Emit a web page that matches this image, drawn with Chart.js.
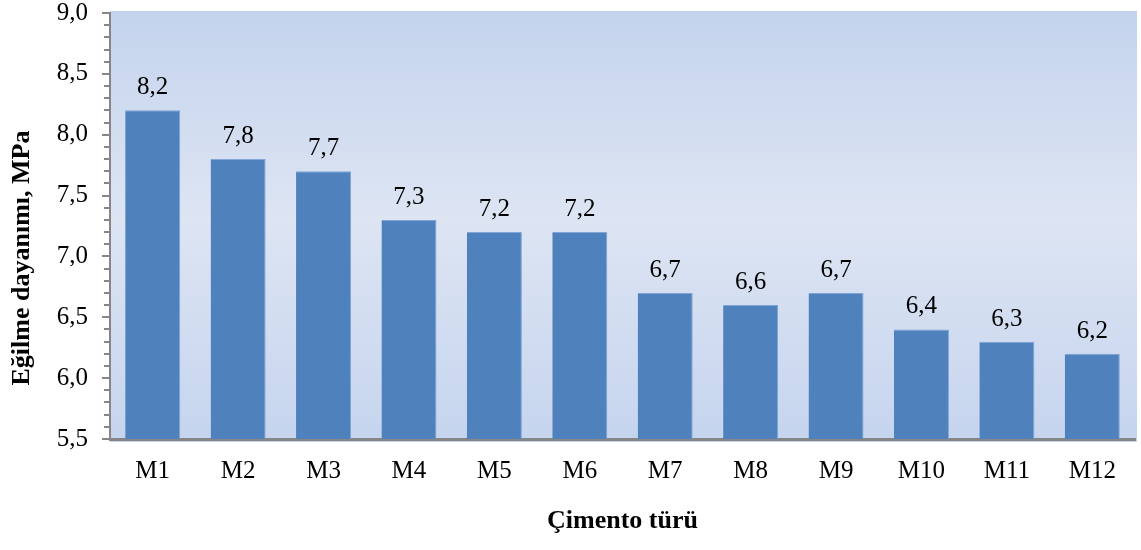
<!DOCTYPE html>
<html>
<head>
<meta charset="utf-8">
<script src="https://cdn.jsdelivr.net/npm/chart.js@4.4.1/dist/chart.umd.min.js"></script>
<style>
  html, body { margin: 0; padding: 0; background: #fff; }
  #wrap { position: relative; width: 1141px; height: 550px; }
</style>
</head>
<body>
<div id="wrap"><canvas id="graph"></canvas></div>
<script>
const categories = ['M1', 'M2', 'M3', 'M4', 'M5', 'M6', 'M7', 'M8', 'M9', 'M10', 'M11', 'M12']
const strength = [8.2, 7.8, 7.7, 7.3, 7.2, 7.2, 6.7, 6.6, 6.7, 6.4, 6.3, 6.2]
const yMin = 5.5
const yMax = 9.0
const yStep = 0.5
const yTitle = 'Eğilme dayanımı, MPa'
const xTitle = 'Çimento türü'

const SERIF = '"Liberation Serif", "Times New Roman", serif'
const AXIS_GREY = '#868686'

const fmt = (v) => v.toFixed(1).replace('.', ',')

// soft blue gradient behind the plot, lightest around the middle
const plotBackground = {
  id: 'plotBackground',
  beforeDraw(chart) {
    const { ctx, chartArea } = chart
    const top = chartArea.top - 2
    const bottom = chartArea.bottom + 3
    const g = ctx.createLinearGradient(0, top, 0, bottom)
    g.addColorStop(0, '#c4d3ed')
    g.addColorStop(0.48, '#dde5f3')
    g.addColorStop(1, '#c5d4ee')
    ctx.save()
    ctx.fillStyle = g
    ctx.fillRect(chartArea.left, top, chartArea.right - chartArea.left + 2, bottom - top)
    ctx.restore()
  }
}

// small ticks every 0.1 between the labelled ones
const minorTicks = {
  id: 'minorTicks',
  afterDraw(chart) {
    const { ctx } = chart
    const y = chart.scales.y
    const x0 = chart.chartArea.left
    ctx.save()
    ctx.strokeStyle = AXIS_GREY
    ctx.lineWidth = 2
    for (let i = Math.round(yMin * 10) + 1; i < Math.round(yMax * 10); i++) {
      if (i % 5 === 0) continue
      const py = Math.round(y.getPixelForValue(i / 10))
      ctx.beginPath()
      ctx.moveTo(x0 - 6, py)
      ctx.lineTo(x0, py)
      ctx.stroke()
    }
    ctx.restore()
  }
}

// value above each bar
const barValues = {
  id: 'barValues',
  afterDatasetsDraw(chart) {
    const { ctx } = chart
    const meta = chart.getDatasetMeta(0)
    ctx.save()
    ctx.fillStyle = '#000'
    ctx.font = '25px ' + SERIF
    ctx.textAlign = 'center'
    ctx.textBaseline = 'alphabetic'
    meta.data.forEach((bar, i) => {
      ctx.fillText(fmt(strength[i]), bar.x, bar.y - 16)
    })
    ctx.restore()
  }
}

// vertical axis title, sits a little below the plot's midline
const yAxisTitle = {
  id: 'yAxisTitle',
  afterDraw(chart) {
    const { ctx } = chart
    ctx.save()
    ctx.translate(29, 258)
    ctx.rotate(-Math.PI / 2)
    ctx.fillStyle = '#000'
    ctx.font = 'bold 26px ' + SERIF
    ctx.textAlign = 'center'
    ctx.textBaseline = 'alphabetic'
    ctx.fillText(yTitle, 0, 0)
    ctx.restore()
  }
}

new Chart(document.getElementById('graph'), {
  type: 'bar',
  data: {
    labels: categories,
    datasets: [{
      data: strength,
      backgroundColor: '#4f81bd',
      borderColor: '#7ea5d6',
      borderWidth: { top: 1, right: 1, left: 0, bottom: 0 },
      borderSkipped: false,
      barPercentage: 0.644,
      categoryPercentage: 1
    }]
  },
  options: {
    responsive: true,
    maintainAspectRatio: false,
    animation: false,
    devicePixelRatio: 1,
    layout: { padding: { top: 13, right: 6, left: 0, bottom: 0 } },
    plugins: {
      legend: { display: false },
      tooltip: { enabled: false }
    },
    scales: {
      y: {
        min: yMin,
        max: yMax,
        afterFit(scale) {
          scale.width = 110
          scale.paddingTop = 0
          scale.paddingBottom = 0
        },
        ticks: {
          stepSize: yStep,
          color: '#000',
          padding: 14,
          font: { family: SERIF, size: 25 },
          callback: (v) => fmt(v)
        },
        grid: {
          display: true,
          drawOnChartArea: false,
          drawTicks: true,
          tickLength: 8,
          color: AXIS_GREY,
          lineWidth: 2
        },
        border: { display: true, color: AXIS_GREY, width: 2 }
      },
      x: {
        afterFit(scale) {
          scale.height = 111
        },
        ticks: {
          color: '#000',
          padding: 17,
          font: { family: SERIF, size: 25 }
        },
        grid: {
          display: true,
          drawOnChartArea: false,
          drawTicks: false,
          tickLength: 0
        },
        border: { display: true, color: AXIS_GREY, width: 3 },
        title: {
          display: true,
          text: xTitle,
          color: '#000',
          font: { family: SERIF, size: 26, weight: 'bold' },
          padding: { top: 4, bottom: 13 }
        }
      }
    }
  },
  plugins: [plotBackground, minorTicks, barValues, yAxisTitle]
})
</script>
</body>
</html>
